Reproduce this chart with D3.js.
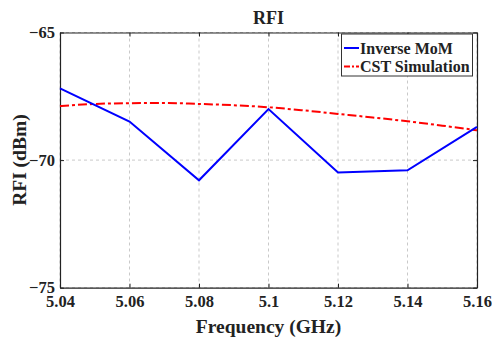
<!DOCTYPE html>
<meta charset="utf-8">
<head>
<script src="https://d3js.org/d3.v7.min.js"></script>
<style>
body { margin: 0; background: white; }
text { font-family: "Liberation Serif", "Times New Roman", serif; font-weight: bold; fill: #222; }
</style>
</head>
<body>
<svg id="svgid" width="492" height="340"></svg>
<script>
// data
var freq = [5.04, 5.06, 5.08, 5.10, 5.12, 5.14, 5.16];
var momVals = [-67.19, -68.49, -70.79, -68.0, -70.49, -70.40, -68.70];
var cstFreq = [5.04, 5.05, 5.06, 5.07, 5.08, 5.09, 5.10, 5.11, 5.12, 5.13, 5.14, 5.15, 5.16];
var cstVals = [-67.88, -67.80, -67.77, -67.76, -67.80, -67.85, -67.93, -68.05, -68.19, -68.33, -68.48, -68.65, -68.83];
var xTicks = [5.04, 5.06, 5.08, 5.10, 5.12, 5.14, 5.16];
var yTicks = [-75, -70, -65];

var svg = d3.select("#svgid");
var pLeft = 60, pRight = 477, pTop = 32.5, pBottom = 287.7;

var x = d3.scaleLinear().domain([5.04, 5.16]).range([pLeft, pRight]);
var y = d3.scaleLinear().domain([-75, -65]).range([pBottom, pTop]);

// grid
svg.append("g").selectAll("line").data(xTicks).enter().append("line")
    .attr("x1", d => x(d)).attr("x2", d => x(d))
    .attr("y1", pTop).attr("y2", pBottom)
    .style("stroke", "#bbb").style("stroke-dasharray", "3,3").style("stroke-width", 0.8);
svg.append("g").selectAll("line").data(yTicks).enter().append("line")
    .attr("x1", pLeft).attr("x2", pRight)
    .attr("y1", d => y(d)).attr("y2", d => y(d))
    .style("stroke", "#bbb").style("stroke-dasharray", "3,3").style("stroke-width", 0.8);

// axes
svg.append("g").attr("transform", "translate(0," + pBottom + ")")
    .call(d3.axisBottom(x).tickValues(xTicks).tickSizeInner(-4).tickSizeOuter(0).tickPadding(8)
        .tickFormat(d => String(+d.toFixed(2))));
svg.append("g").attr("transform", "translate(" + pLeft + ",0)")
    .call(d3.axisLeft(y).tickValues(yTicks).tickSizeInner(-4).tickSizeOuter(0).tickPadding(5));
svg.append("g").attr("transform", "translate(0," + pTop + ")")
    .call(d3.axisTop(x).tickValues(xTicks).tickSizeInner(-4).tickSizeOuter(0).tickFormat(""));
svg.append("g").attr("transform", "translate(" + pRight + ",0)")
    .call(d3.axisRight(y).tickValues(yTicks).tickSizeInner(-4).tickSizeOuter(0).tickFormat(""));

svg.selectAll(".domain").style("stroke", "#222").style("stroke-width", 1.2);
svg.selectAll(".tick line").style("stroke", "#222");
svg.selectAll(".tick text").style("font-size", "16.5px").style("font-family", "Liberation Serif").style("font-weight", "bold").style("fill", "#222");

// lines
svg.append("path")
    .datum(cstFreq.map((f, i) => [f, cstVals[i]]))
    .attr("d", d3.line().x(d => x(d[0])).y(d => y(d[1])).curve(d3.curveMonotoneX))
    .style("fill", "none").style("stroke", "#ff0000").style("stroke-width", 2)
    .style("stroke-dasharray", "9,3,3,3");
svg.append("path")
    .datum(freq.map((f, i) => [f, momVals[i]]))
    .attr("d", d3.line().x(d => x(d[0])).y(d => y(d[1])))
    .style("fill", "none").style("stroke", "#0000ff").style("stroke-width", 2);

// title & labels
svg.append("text").attr("x", (pLeft + pRight) / 2).attr("y", 24)
    .attr("text-anchor", "middle").style("font-size", "18px").text("RFI");
svg.append("text").attr("x", (pLeft + pRight) / 2).attr("y", 333)
    .attr("text-anchor", "middle").style("font-size", "19.5px").text("Frequency (GHz)");
svg.append("text").attr("transform", "translate(26," + ((pTop + pBottom) / 2) + ") rotate(-90)")
    .attr("text-anchor", "middle").style("font-size", "19.5px").text("RFI (dBm)");

// legend
var lg = svg.append("g");
lg.append("rect").attr("x", 341.5).attr("y", 34).attr("width", 131).attr("height", 42)
    .style("fill", "white").style("stroke", "#333").style("stroke-width", 1);
var legendItems = [["Inverse MoM", "#0000ff", null], ["CST Simulation", "#ff0000", "6,2,2,2"]];
legendItems.forEach(function(it, i) {
    var yy = 48 + i * 18.5;
    lg.append("line").attr("x1", 344).attr("x2", 359).attr("y1", yy).attr("y2", yy)
        .style("stroke", it[1]).style("stroke-width", 2).style("stroke-dasharray", it[2]);
    lg.append("text").attr("x", 360).attr("y", yy + 5.5).style("font-size", "16px").text(it[0]);
});
</script>
</body>
